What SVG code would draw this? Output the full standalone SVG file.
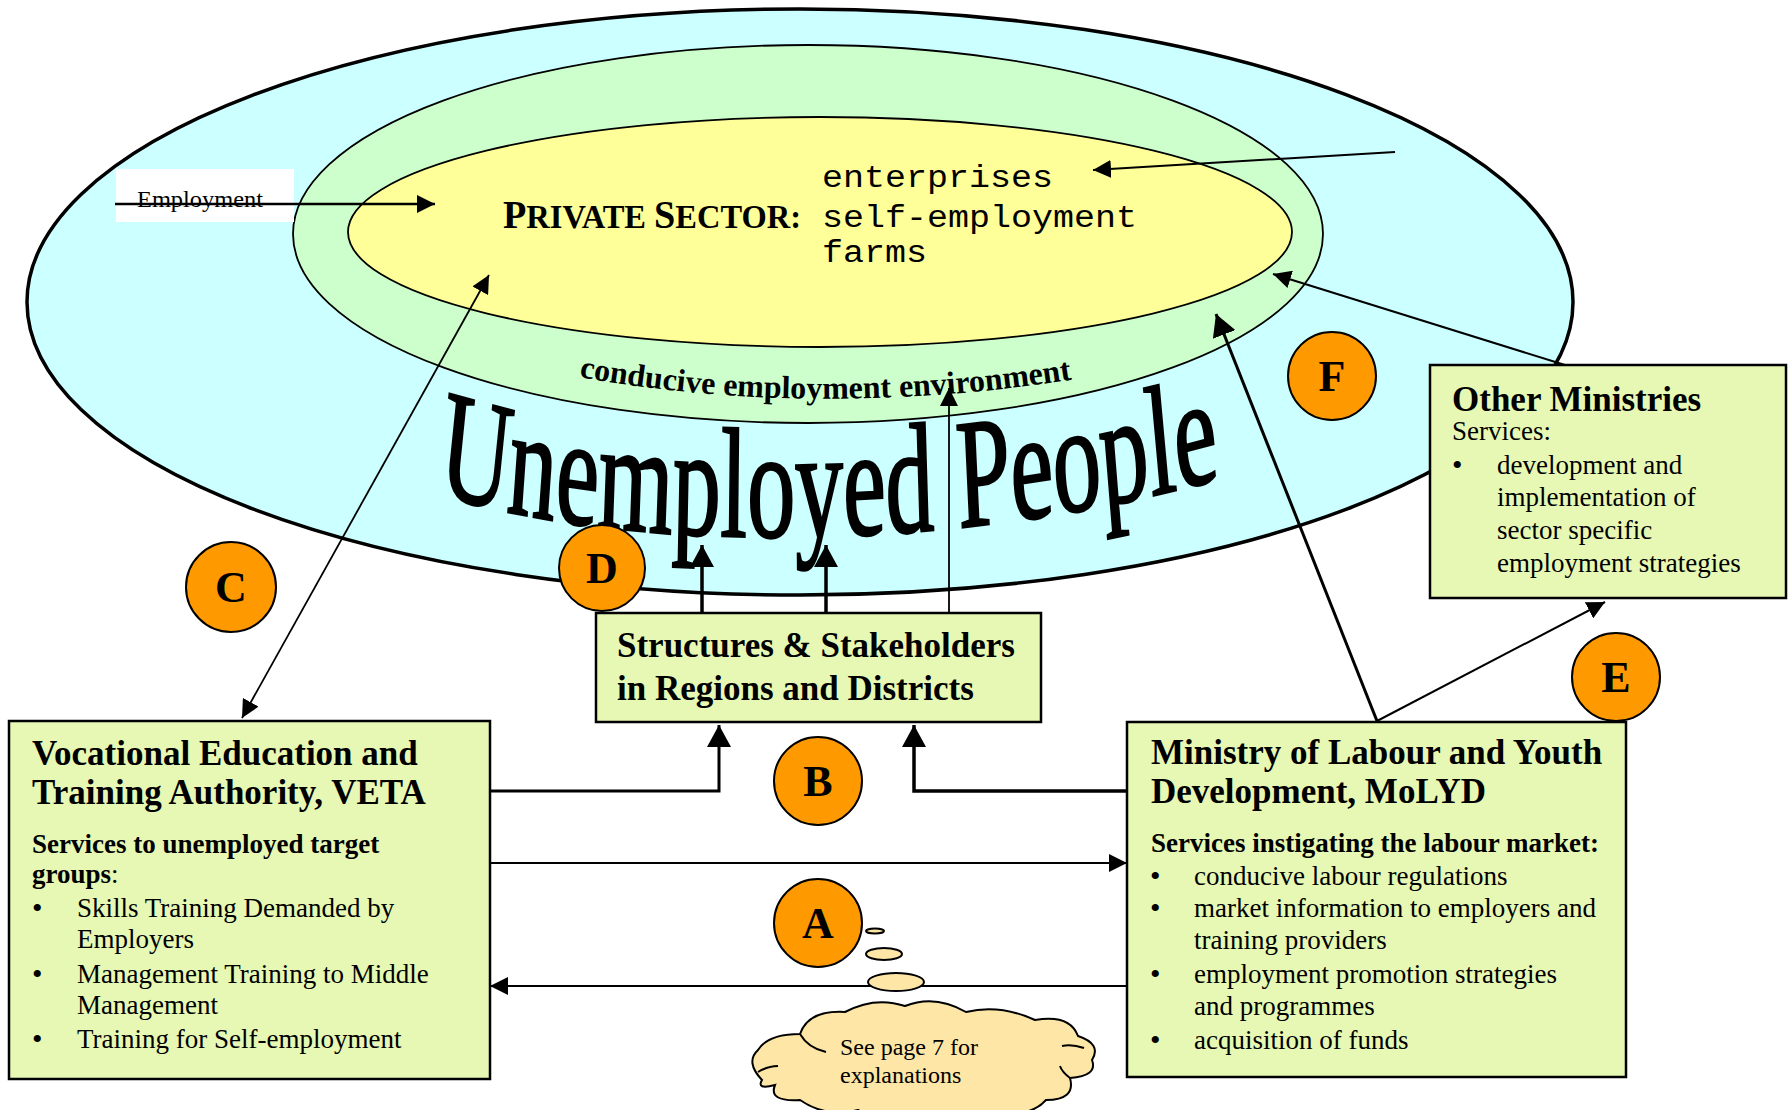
<svg xmlns="http://www.w3.org/2000/svg" width="1790" height="1110" viewBox="0 0 1790 1110">
<defs>
<style>
.serif{font-family:"Liberation Serif","Times New Roman",serif;fill:#000}
.b{font-weight:bold}
.h{font-size:35px;font-weight:bold}
.sub{font-size:27px;font-weight:bold}
.t{font-size:27px}
.bul{font-size:30px}
.box{fill:#E6F8B3;stroke:#000;stroke-width:2.5}
.circ{fill:#FF9900;stroke:#000;stroke-width:2}
.lbl{font-size:44px;font-weight:bold;text-anchor:middle}
.ln{fill:none;stroke:#000}
.mono{font-family:"Liberation Mono","Courier New",monospace;fill:#000}
.bub{fill:#FDE6A6;stroke:#000;stroke-width:2}
</style>
<marker id="ah" markerUnits="userSpaceOnUse" markerWidth="20" markerHeight="18" refX="18" refY="9" orient="auto-start-reverse"><path d="M0,0 L18,9 L0,18 Z" fill="#000"/></marker>
<marker id="ahB" markerUnits="userSpaceOnUse" markerWidth="24" markerHeight="24" refX="22" refY="12" orient="auto"><path d="M0,0 L22,12 L0,24 Z" fill="#000"/></marker>
<path id="arcCond" d="M 579 377 Q 820 420 1082 378"/>
<path id="arcUnemp" d="M 705 493 C 958 546, 1490 562, 1971 478"/>
</defs>

<g id="ellipses">
<ellipse cx="800" cy="302" rx="773" ry="293" fill="#CCFFFF" stroke="#000" stroke-width="3.5"/>
<ellipse cx="808" cy="234" rx="515" ry="189" fill="#CCFFCC" stroke="#000" stroke-width="1.8"/>
<ellipse cx="820" cy="232" rx="472" ry="115" fill="#FFFF99" stroke="#000" stroke-width="1.8"/>
</g>

<g id="private-sector">
<text class="serif b" x="503" y="228" textLength="298" lengthAdjust="spacingAndGlyphs"><tspan font-size="40">P</tspan><tspan font-size="34">RIVATE </tspan><tspan font-size="40">S</tspan><tspan font-size="34">ECTOR:</tspan></text>
<text class="mono" font-size="31" x="822" y="187" textLength="231" lengthAdjust="spacingAndGlyphs">enterprises</text>
<text class="mono" font-size="31" x="822" y="227" textLength="315" lengthAdjust="spacingAndGlyphs">self-employment</text>
<text class="mono" font-size="31" x="822" y="262" textLength="105" lengthAdjust="spacingAndGlyphs">farms</text>
</g>

<g id="employment">
<rect x="116" y="169" width="178" height="53" fill="#FFFFFF"/>
<text class="serif" font-size="23" x="137" y="207" textLength="126" lengthAdjust="spacingAndGlyphs">Employment</text>
</g>

<g id="conducive">
<text class="serif b" font-size="32"><textPath href="#arcCond">conducive employment environment</textPath></text>
</g>

<g id="unemployed-people" transform="scale(0.62,1)">
<text class="serif" font-size="156" stroke="#000" stroke-width="2.5"><textPath href="#arcUnemp">Unemployed People</textPath></text>
</g>

<g id="connectors">
<line class="ln" x1="115" y1="204" x2="435" y2="204" stroke-width="2.5" marker-end="url(#ah)"/>
<line class="ln" x1="1395" y1="152" x2="1093" y2="170" stroke-width="2" marker-end="url(#ah)"/>
<line class="ln" x1="242" y1="718" x2="489" y2="275" stroke-width="1.8" marker-start="url(#ah)" marker-end="url(#ah)"/>
<line class="ln" x1="1377" y1="721" x2="1216" y2="314" stroke-width="3" marker-end="url(#ahB)"/>
<line class="ln" x1="1565" y1="365" x2="1273" y2="274" stroke-width="2" marker-end="url(#ah)"/>
<line class="ln" x1="1377" y1="721" x2="1605" y2="602" stroke-width="2" marker-end="url(#ah)"/>
<line class="ln" x1="949" y1="613" x2="949" y2="388" stroke-width="1.8" marker-end="url(#ah)"/>
<line class="ln" x1="702" y1="613" x2="702" y2="545" stroke-width="3.5" marker-end="url(#ahB)"/>
<line class="ln" x1="826" y1="613" x2="826" y2="545" stroke-width="3.5" marker-end="url(#ahB)"/>
<polyline class="ln" points="490,791 719,791 719,725" stroke-width="3" marker-end="url(#ahB)"/>
<polyline class="ln" points="1127,791 914,791 914,725" stroke-width="3.5" marker-end="url(#ahB)"/>
<line class="ln" x1="490" y1="863" x2="1127" y2="863" stroke-width="2" marker-end="url(#ah)"/>
<line class="ln" x1="1127" y1="986" x2="490" y2="986" stroke-width="2" marker-end="url(#ah)"/>
</g>

<g id="structures">
<rect class="box" x="596" y="613" width="445" height="109"/>
<text class="serif h" x="617" y="657">Structures &amp; Stakeholders</text>
<text class="serif h" x="617" y="700">in Regions and Districts</text>
</g>

<g id="veta">
<rect class="box" x="9" y="721" width="481" height="358"/>
<text class="serif h" x="32" y="765">Vocational Education and</text>
<text class="serif h" x="32" y="804">Training Authority, VETA</text>
<text class="serif sub" x="32" y="853">Services to unemployed target</text>
<text class="serif t" x="32" y="883"><tspan font-weight="bold">groups</tspan>:</text>
<text class="serif bul" x="32" y="918">•</text>
<text class="serif t" x="77" y="917">Skills Training Demanded by</text>
<text class="serif t" x="77" y="948">Employers</text>
<text class="serif bul" x="32" y="984">•</text>
<text class="serif t" x="77" y="983">Management Training to Middle</text>
<text class="serif t" x="77" y="1014">Management</text>
<text class="serif bul" x="32" y="1049">•</text>
<text class="serif t" x="77" y="1048">Training for Self-employment</text>
</g>

<g id="molyd">
<rect class="box" x="1127" y="722" width="499" height="355"/>
<text class="serif h" x="1151" y="764">Ministry of Labour and Youth</text>
<text class="serif h" x="1151" y="803">Development, MoLYD</text>
<text class="serif sub" x="1151" y="852">Services instigating the labour market:</text>
<text class="serif bul" x="1150" y="886">•</text>
<text class="serif t" x="1194" y="885">conducive labour regulations</text>
<text class="serif bul" x="1150" y="918">•</text>
<text class="serif t" x="1194" y="917">market information to employers and</text>
<text class="serif t" x="1194" y="949">training providers</text>
<text class="serif bul" x="1150" y="984">•</text>
<text class="serif t" x="1194" y="983">employment promotion strategies</text>
<text class="serif t" x="1194" y="1015">and programmes</text>
<text class="serif bul" x="1150" y="1050">•</text>
<text class="serif t" x="1194" y="1049">acquisition of funds</text>
</g>

<g id="other-ministries">
<rect class="box" x="1430" y="365" width="356" height="233"/>
<text class="serif h" x="1452" y="411">Other Ministries</text>
<text class="serif t" x="1452" y="440">Services:</text>
<text class="serif bul" x="1452" y="475">•</text>
<text class="serif t" x="1497" y="474">development and</text>
<text class="serif t" x="1497" y="506">implementation of</text>
<text class="serif t" x="1497" y="539">sector specific</text>
<text class="serif t" x="1497" y="572">employment strategies</text>
</g>

<g id="circle-A"><circle class="circ" cx="818" cy="923" r="44"/><text class="serif lbl" x="818" y="938">A</text></g>
<g id="circle-B"><circle class="circ" cx="818" cy="781" r="44"/><text class="serif lbl" x="818" y="796">B</text></g>
<g id="circle-C"><circle class="circ" cx="231" cy="587" r="45"/><text class="serif lbl" x="231" y="602">C</text></g>
<g id="circle-D"><circle class="circ" cx="602" cy="568" r="43"/><text class="serif lbl" x="602" y="583">D</text></g>
<g id="circle-E"><circle class="circ" cx="1616" cy="677" r="44"/><text class="serif lbl" x="1616" y="692">E</text></g>
<g id="circle-F"><circle class="circ" cx="1332" cy="376" r="44"/><text class="serif lbl" x="1332" y="391">F</text></g>

<g id="thought-cloud">
<ellipse class="bub" cx="875" cy="931" rx="9" ry="2.5" stroke-width="1.5"/>
<ellipse class="bub" cx="884" cy="954" rx="18" ry="6"/>
<ellipse class="bub" cx="896" cy="982" rx="28" ry="9"/>
<path class="bub" d="M 762 1080 Q 745 1062 758 1050 Q 768 1034 800 1034 Q 808 1010 845 1012 Q 875 996 905 1006 Q 935 994 966 1012 Q 1000 1004 1035 1020 Q 1070 1014 1078 1036 Q 1102 1044 1092 1060 Q 1098 1076 1070 1078 Q 1076 1100 1046 1100 Q 1030 1118 995 1112 Q 960 1124 925 1113 Q 885 1124 858 1110 Q 826 1118 800 1100 Q 768 1102 775 1085 Q 756 1090 762 1080 Z"/>
<path class="ln" stroke-width="2" d="M 800 1034 Q 808 1048 826 1052 M 1062 1046 Q 1072 1044 1084 1048 M 758 1072 Q 768 1066 778 1066 M 1070 1078 Q 1062 1072 1060 1066"/>
<text class="serif" font-size="24" x="840" y="1055">See page 7 for</text>
<text class="serif" font-size="24" x="840" y="1083">explanations</text>
</g>
</svg>
